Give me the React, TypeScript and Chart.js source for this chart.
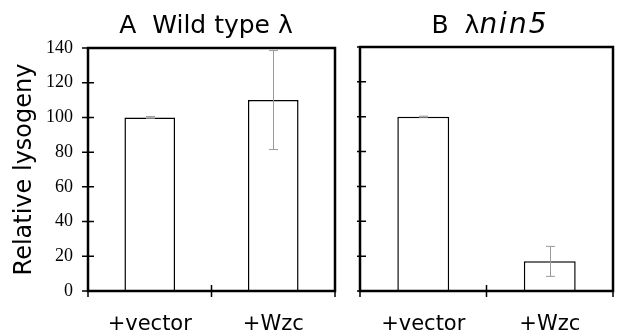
import React, { useEffect, useRef } from "react";
import { Chart, registerables } from "chart.js";

Chart.register(...registerables);

const categories = ["+vector", "+Wzc"];
const wildTypeValues = [100, 110];
const wildTypeErrors = [0.5, 28.5];
const nin5Values = [100, 17];
const nin5Errors = [0.3, 8.6];
const yTickValues = [0, 20, 40, 60, 80, 100, 120, 140];

const SANS = "'DejaVu Sans', Verdana, sans-serif";
const SERIF = "'Liberation Serif', 'Times New Roman', serif";

function errorBarPlugin(errors: number[]) {
  return {
    id: "errorBars",
    afterDatasetsDraw(chart: any) {
      const ctx = chart.ctx;
      const meta = chart.getDatasetMeta(0);
      const ys = chart.scales.y;
      const vals = chart.data.datasets[0].data as number[];
      ctx.save();
      ctx.strokeStyle = "#9a9a9a";
      ctx.lineWidth = 1;
      meta.data.forEach((bar: any, i: number) => {
        const x = Math.round(bar.x) + 0.5;
        const top = ys.getPixelForValue(vals[i] + errors[i]);
        const bot = ys.getPixelForValue(vals[i] - errors[i]);
        ctx.beginPath();
        ctx.moveTo(x, top);
        ctx.lineTo(x, bot);
        ctx.moveTo(x - 4.5, top);
        ctx.lineTo(x + 4.5, top);
        ctx.moveTo(x - 4.5, bot);
        ctx.lineTo(x + 4.5, bot);
        ctx.stroke();
      });
      ctx.restore();
    },
  };
}

function framePlugin(ticksOutside: boolean) {
  return {
    id: "frame",
    afterDraw(chart: any) {
      const ctx = chart.ctx;
      const { left, right, top, bottom } = chart.chartArea;
      const ys = chart.scales.y;
      const xs = chart.scales.x;
      ctx.save();
      ctx.strokeStyle = "#000";
      ctx.lineWidth = 2.5;
      ctx.lineCap = "square";
      ctx.beginPath();
      ctx.moveTo(left, top);
      ctx.lineTo(right, top);
      ctx.lineTo(right, bottom);
      ctx.lineTo(left, bottom);
      ctx.closePath();
      ctx.stroke();
      ctx.lineWidth = 1.5;
      ctx.lineCap = "butt";
      ctx.beginPath();
      yTickValues.forEach((v) => {
        const y = ys.getPixelForValue(v);
        ctx.moveTo(ticksOutside ? left - 6 : left - 3, y);
        ctx.lineTo(v === 0 || v === 140 ? left : left + 6, y);
      });
      const n = categories.length;
      for (let i = 0; i <= n; i++) {
        const x =
          i === 0 ? left : i === n ? right : (xs.getPixelForValue(i - 1) + xs.getPixelForValue(i)) / 2;
        ctx.moveTo(x, i === 0 || i === n ? bottom : bottom - 6);
        ctx.lineTo(x, bottom + 6);
      }
      ctx.stroke();
      ctx.restore();
    },
  };
}

function titlePlugin(
  parts: { text: string; italic: boolean; size: number; spacing: number }[],
  cx: number,
  baseline: number
) {
  return {
    id: "panelTitle",
    afterDraw(chart: any) {
      const ctx = chart.ctx;
      ctx.save();
      ctx.fillStyle = "#000";
      ctx.textBaseline = "alphabetic";
      ctx.textAlign = "left";
      const fonts = parts.map((p) => `${p.italic ? "italic " : ""}${p.size}px ${SANS}`);
      let total = 0;
      const widths = parts.map((p, i) => {
        ctx.font = fonts[i];
        (ctx as any).letterSpacing = `${p.spacing}px`;
        const w = ctx.measureText(p.text).width;
        total += w;
        return w;
      });
      let x = cx - total / 2;
      parts.forEach((p, i) => {
        ctx.font = fonts[i];
        (ctx as any).letterSpacing = `${p.spacing}px`;
        ctx.fillText(p.text, x, baseline);
        x += widths[i];
      });
      ctx.restore();
    },
  };
}

function makeConfig(values: number[], errors: number[], withLabels: boolean, padding: any, plugins: any[]) {
  return {
    type: "bar" as const,
    data: {
      labels: categories,
      datasets: [
        {
          data: values,
          backgroundColor: "#ffffff",
          borderColor: "#000000",
          borderWidth: 1.5,
          categoryPercentage: 1,
          barPercentage: 0.41,
        },
      ],
    },
    options: {
      animation: false as const,
      responsive: false,
      devicePixelRatio: 1,
      layout: { padding },
      plugins: {
        legend: { display: false },
        tooltip: { enabled: false },
        title: { display: false },
      },
      scales: {
        x: {
          grid: { display: false, drawTicks: false },
          border: { display: false },
          ticks: {
            color: "#000",
            font: { family: SANS, size: 21 },
            padding: 21,
            maxRotation: 0,
            minRotation: 0,
            autoSkip: false,
          },
          afterFit: (s: any) => {
            s.height = 334 - 291;
          },
        },
        y: {
          display: withLabels,
          min: 0,
          max: 140,
          grid: { display: false, drawTicks: false },
          border: { display: false },
          ticks: { stepSize: 20, color: "#000", font: { family: SERIF, size: 18 }, padding: 15 },
          title: {
            display: true,
            text: "Relative lysogeny",
            color: "#000",
            font: { family: SANS, size: 24 },
            padding: { top: 10, bottom: 0 },
          },
          afterFit: (s: any) => {
            s.width = withLabels ? 88 : 0;
          },
        },
      },
    },
    plugins: [errorBarPlugin(errors), ...plugins],
  };
}

export default function App() {
  const refA = useRef<HTMLCanvasElement>(null);
  const refB = useRef<HTMLCanvasElement>(null);
  useEffect(() => {
    const a = new Chart(
      refA.current as HTMLCanvasElement,
      makeConfig(wildTypeValues, wildTypeErrors, true, { left: 0, right: 5, top: 48, bottom: 0 }, [
        framePlugin(true),
        titlePlugin([{ text: "A  Wild type λ", italic: false, size: 25, spacing: 0 }], 206, 33),
      ]) as any
    );
    const b = new Chart(
      refB.current as HTMLCanvasElement,
      makeConfig(nin5Values, nin5Errors, false, { left: 20, right: 9, top: 47, bottom: 0 }, [
        framePlugin(false),
        titlePlugin(
          [
            { text: "B  λ", italic: false, size: 25, spacing: 0 },
            { text: "nin5", italic: true, size: 28, spacing: 2 },
          ],
          150,
          33
        ),
      ]) as any
    );
    return () => {
      a.destroy();
      b.destroy();
    };
  }, []);
  return (
    <div style={{ position: "fixed", left: 0, top: 0, width: 622, height: 334, background: "#fff" }}>
      <canvas ref={refA} width={340} height={334} style={{ position: "absolute", left: 0, top: 0 }} />
      <canvas ref={refB} width={282} height={334} style={{ position: "absolute", left: 340, top: 0 }} />
    </div>
  );
}
